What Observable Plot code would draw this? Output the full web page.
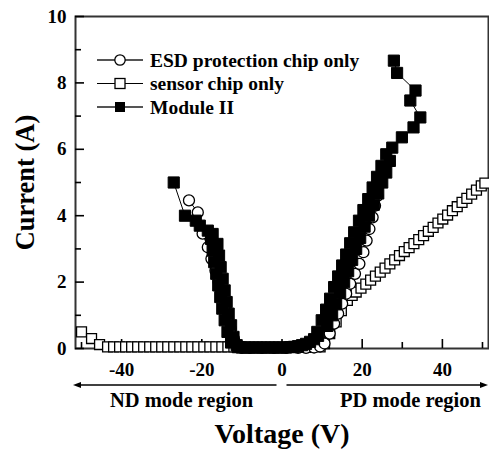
<!DOCTYPE html>
<html>
<head>
<meta charset="utf-8">
<script src="https://cdn.jsdelivr.net/npm/d3@7"></script>
<script src="https://cdn.jsdelivr.net/npm/@observablehq/plot@0.6"></script>
<style>
  html, body { margin: 0; padding: 0; background: #fff; }
  #chart { width: 489px; height: 452px; }
</style>
</head>
<body>
<div id="chart"></div>
<script>
// ---- tick values ----
const xMajor = [-40, -20, 0, 20, 40];
const xMinor = [-50, -30, -10, 10, 30, 50];
const yMajor = [0, 2, 4, 6, 8, 10];
const yMinor = [1, 3, 5, 7, 9];

// ---- series names ----
const seriesNames = ["ESD protection chip only", "sensor chip only", "Module II"];

// ---- ESD protection chip only (open circles) ----
const esdV = [-23.2, -21, -19.8, -18.5, -17.6, -16.6, -15.8, -15, -14.2, -13.5, -12.8, -12, -11, -10,
  -8, -5, -2, 1, 4, 6, 8, 9.5, 10.6, 11.9, 13.0, 14.0, 15.0, 16.0, 17.0, 18.2, 19.3, 20.3, 21.1, 21.8, 22.6, 23.2, 23.8];
const esdI = [4.46, 4.1, 3.46, 3.05, 2.7, 2.35, 2.0, 1.65, 1.3, 0.95, 0.6, 0.3, 0.08, 0.02,
  0.02, 0.02, 0.02, 0.02, 0.02, 0.02, 0.03, 0.06, 0.15, 0.45, 0.75, 1.05, 1.35, 1.65, 1.95, 2.25, 2.55, 2.9, 3.25, 3.6, 3.95, 4.3, 4.6];

// ---- sensor chip only (open squares) ----
const sensorV = [-50, -47.5, -45.5, -43.5, -42, -40.5, -39, -37.5, -36, -34.5, -33, -31.5, -30, -28.5, -27, -25.5, -24, -22.5, -21, -19.5, -18, -16.5, -15, -13.5, -12, -10.5,
  -8, -5, -2, 1, 4, 7, 9.5, 10.6, 11.9, 13.5, 14.8, 16.3, 17.5, 18.5, 19.7, 20.9, 22.1, 23.3, 24.5, 25.7, 26.9, 28.1, 29.3, 30.5, 31.7, 32.9, 34.1, 35.3, 36.5, 37.7, 38.9, 40.1, 41.3, 42.5, 43.7, 44.9, 46.1, 47.3, 48.5, 49.7, 50.6];
const sensorI = [0.5, 0.3, 0.12, 0.05, 0.05, 0.05, 0.05, 0.05, 0.05, 0.05, 0.05, 0.05, 0.05, 0.05, 0.05, 0.05, 0.05, 0.05, 0.05, 0.05, 0.05, 0.05, 0.05, 0.05, 0.05, 0.05,
  0.03, 0.03, 0.03, 0.03, 0.03, 0.03, 0.05, 0.15, 0.45, 0.8, 1.14, 1.45, 1.6, 1.7, 1.82, 1.94, 2.06, 2.18, 2.3, 2.42, 2.55, 2.67, 2.8, 2.92, 3.04, 3.16, 3.28, 3.4, 3.53, 3.65, 3.78, 3.9, 4.02, 4.15, 4.27, 4.4, 4.52, 4.65, 4.77, 4.9, 4.98];

// ---- Module II (filled squares) ----
const moduleV = [-27, -24.2, -21.5, -20.5, -18.5, -17.3, -17.7, -16.1, -17.3, -15.7, -16.9, -15.3, -16.4, -14.8, -15.9, -14.3, -15.4, -13.8, -14.9, -13.3, -14.3, -12.7, -13.6, -12.1, -12.7, -11.3, -11, -10,
  -9, -8, -7, -6, -5, -4, -3, -2, -1, 0, 1, 2, 3, 4, 5, 6, 7, 8, 9,
  8.8, 11.3, 9.9, 12.5, 11.0, 13.5, 12.0, 14.5, 13.0, 15.5, 14.0, 16.5, 15.0, 17.5, 16.0, 18.5, 17.0, 19.5, 18.0, 20.6, 19.2, 21.7, 20.3, 22.9, 21.5, 24.0, 22.6, 25.0, 23.7, 26.0, 24.8, 26.9, 26.0, 27.5,
  29.9, 32.8, 34.5, 32, 33.3, 28.7, 27.9];
const moduleI = [5.0, 4.0, 3.85, 3.7, 3.55, 3.45, 3.3, 3.15, 2.95, 2.8, 2.6, 2.45, 2.25, 2.1, 1.9, 1.75, 1.55, 1.4, 1.2, 1.05, 0.85, 0.7, 0.5, 0.35, 0.18, 0.1, 0.04, 0.03,
  0.03, 0.03, 0.03, 0.03, 0.03, 0.03, 0.03, 0.03, 0.03, 0.03, 0.03, 0.04, 0.05, 0.07, 0.1, 0.14, 0.2, 0.28, 0.38,
  0.5, 0.68, 0.85, 1.0, 1.17, 1.33, 1.5, 1.67, 1.85, 2.0, 2.17, 2.33, 2.5, 2.67, 2.83, 3.0, 3.17, 3.33, 3.5, 3.67, 3.85, 4.0, 4.17, 4.33, 4.5, 4.67, 4.85, 5.0, 5.17, 5.3, 5.5, 5.65, 5.85, 6.05,
  6.36, 6.66, 6.96, 7.47, 7.77, 8.3, 8.67];

const toRows = (V, I) => V.map((v, i) => ({v, i: I[i]}));
const esd = toRows(esdV, esdI);
const sensor = toRows(sensorV, sensorI);
const moduleII = toRows(moduleV, moduleI);

const W = 489, H = 452;
const mL = 75, mR = 1, mT = 16, mB = 104;
const frameW = W - mL - mR, frameH = H - mT - mB;
const FONT = "'Liberation Serif', 'Times New Roman', serif";

const plot = Plot.plot({
  width: W, height: H,
  marginLeft: mL, marginRight: mR, marginTop: mT, marginBottom: mB,
  style: {fontFamily: FONT, fontWeight: "bold", fontSize: "19px", background: "white", color: "black", overflow: "visible"},
  x: {domain: [-51.5, 51.5]},
  y: {domain: [0, 10]},
  marks: [
    Plot.frame({stroke: "#333", strokeWidth: 2}),
    Plot.tickX(xMajor, {x: d => d, insetTop: frameH - 9, stroke: "black", strokeWidth: 1.6}),
    Plot.tickX(xMinor, {x: d => d, insetTop: frameH - 6, stroke: "black", strokeWidth: 1.6}),
    Plot.tickY(yMajor, {y: d => d, insetRight: frameW - 9, stroke: "black", strokeWidth: 1.6}),
    Plot.tickY(yMinor, {y: d => d, insetRight: frameW - 6, stroke: "black", strokeWidth: 1.6}),
    Plot.axisX({ticks: xMajor, tickSize: 0, tickPadding: 14, tickFormat: d => String(d), label: null, fontSize: 19}),
    Plot.axisY({ticks: yMajor, tickSize: 0, tickPadding: 9, tickFormat: d => String(d), label: null, fontSize: 19}),
    // sensor chip only
    Plot.line(sensor, {x: "v", y: "i", stroke: "black", strokeWidth: 1}),
    Plot.dot(sensor, {x: "v", y: "i", symbol: "square", r: 5.6, fill: "white", stroke: "black", strokeWidth: 1.3}),
    // ESD protection chip only
    Plot.line(esd, {x: "v", y: "i", stroke: "black", strokeWidth: 1}),
    Plot.dot(esd, {x: "v", y: "i", symbol: "circle", r: 5.5, fill: "white", stroke: "black", strokeWidth: 1.3}),
    // Module II
    Plot.line(moduleII, {x: "v", y: "i", stroke: "black", strokeWidth: 1}),
    Plot.dot(moduleII, {x: "v", y: "i", symbol: "square", r: 6.3, fill: "black", stroke: "black", strokeWidth: 1}),
    // titles & region labels
    Plot.text(["Current (A)"], {frameAnchor: "left", dx: -50, rotate: -90, text: d => d, textAnchor: "middle", lineAnchor: "middle", fontSize: 26.5}),
    Plot.text(["Voltage (V)"], {frameAnchor: "bottom", dy: 86, text: d => d, textAnchor: "middle", lineAnchor: "middle", fontSize: 28}),
    Plot.text(["ND mode region"], {frameAnchor: "bottom-left", dx: 106, dy: 52, text: d => d, textAnchor: "middle", lineAnchor: "middle", fontSize: 20.5}),
    Plot.text(["PD mode region"], {frameAnchor: "bottom-right", dx: -78, dy: 52, text: d => d, textAnchor: "middle", lineAnchor: "middle", fontSize: 20.5})
  ]
});
document.getElementById("chart").appendChild(plot);

const svg = d3.select(plot);
const xs = plot.scale("x");

// legend (inside the frame, upper left)
const lg = svg.append("g").attr("font-family", FONT).attr("font-weight", "bold").attr("font-size", 19.5).attr("text-anchor", "start");
const rowY = [60, 83.5, 107];
const lineStyle = [{c: "#555", w: 2.2}, {c: "black", w: 1.2}, {c: "#555", w: 2.2}];
seriesNames.forEach((name, k) => {
  const y = rowY[k];
  lg.append("line").attr("x1", mL + 22).attr("x2", mL + 68).attr("y1", y).attr("y2", y)
    .attr("stroke", lineStyle[k].c).attr("stroke-width", lineStyle[k].w);
  const cx = mL + 45;
  if (k === 0) lg.append("circle").attr("cx", cx).attr("cy", y).attr("r", 5.2).attr("fill", "white").attr("stroke", "black").attr("stroke-width", 1.3);
  if (k === 1) lg.append("rect").attr("x", cx - 5).attr("y", y - 5).attr("width", 10).attr("height", 10).attr("fill", "white").attr("stroke", "black").attr("stroke-width", 1.3);
  if (k === 2) lg.append("rect").attr("x", cx - 5).attr("y", y - 5).attr("width", 10).attr("height", 10).attr("fill", "black");
  lg.append("text").attr("x", mL + 75).attr("y", y).attr("dy", "0.35em").attr("text-anchor", "start").text(name);
});

// region arrows under the axis, split at V = 0
const x0 = xs.apply(0), xl = xs.range[0], xr = xs.range[1];
const ay = H - mB + 37;
const ag = svg.append("g").attr("stroke", "black").attr("fill", "black");
ag.append("line").attr("x1", x0 - 5).attr("x2", xl + 4).attr("y1", ay).attr("y2", ay).attr("stroke-width", 1.5);
ag.append("path").attr("d", `M${xl - 2},${ay} L${xl + 6},${ay - 3} L${xl + 6},${ay + 3} Z`).attr("stroke", "none");
ag.append("line").attr("x1", x0 + 5).attr("x2", xr - 4).attr("y1", ay).attr("y2", ay).attr("stroke-width", 1.5);
ag.append("path").attr("d", `M${xr},${ay} L${xr - 8},${ay - 3} L${xr - 8},${ay + 3} Z`).attr("stroke", "none");
</script>
</body>
</html>
